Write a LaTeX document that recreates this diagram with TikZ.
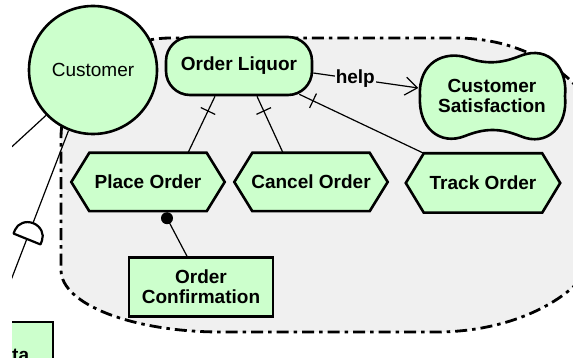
\documentclass[tikz,border=0pt]{standalone}
\usepackage{fontspec}
\setmainfont{Liberation Sans}
\usetikzlibrary{arrows.meta,calc}
\definecolor{ngreen}{HTML}{CCFFCC}
\definecolor{bgray}{HTML}{F0F0F0}
\pgfdeclarelayer{bg}
\pgfdeclarelayer{mid}
\pgfsetlayers{bg,mid,main}
\begin{document}
\begin{tikzpicture}[x=1pt,y=-1pt,
  lbl/.style={font=\fontsize{19}{20}\selectfont\bfseries, align=center},
  nodeline/.style={line width=2.6pt, draw=black},
  link/.style={line width=1.2pt},
  tick/.style={draw, line width=1.2pt, shape=rectangle, minimum width=0pt, minimum height=16pt, inner sep=0pt},
  hexnode/.style={lbl, minimum width=153pt, minimum height=58pt, inner sep=0pt}]
\useasboundingbox (0,0) rectangle (573,358);
\clip (12,-5) rectangle (620,358);
% actor boundary
\begin{pgfonlayer}{bg}
\draw[fill=bgray, line width=2.8pt, dash pattern=on 12pt off 5pt on 3.5pt off 5pt]
  (61,138) .. controls (61,82.8) and (110.25,38) .. (171,38)
  -- (456,38) .. controls (538.8,38) and (606,91.7) .. (606,158)
  -- (606,222) .. controls (606,282.75) and (529.9,332) .. (436,332)
  -- (221,332) .. controls (132.6,332) and (61,304.2) .. (61,270)
  -- cycle;
\end{pgfonlayer}
% nodes
\node[circle, nodeline, fill=ngreen, minimum size=128pt, inner sep=0pt, font=\fontsize{19}{20}\selectfont] (cu) at (93,70) {Customer};
\node[rounded corners=24pt, nodeline, fill=ngreen, minimum width=146pt, minimum height=58pt, lbl] (ol) at (239,66) {Order Liquor};
\node[hexnode] (po) at (148,182) {Place Order};
\node[hexnode] (co) at (311,182) {Cancel Order};
\node[hexnode, minimum width=154pt, minimum height=59pt] (tr) at (483,183) {Track Order};
\node[lbl, minimum width=145pt, minimum height=88pt, inner sep=0pt] (cs) at (492,96) {Customer\\Satisfaction};
\node[rectangle, nodeline, fill=ngreen, minimum width=144pt, minimum height=59pt, lbl] (oc) at (201,287) {Order\\Confirmation};
% shapes on mid layer
\begin{pgfonlayer}{mid}
\foreach \n in {po,co,tr}{
  \draw[nodeline, fill=ngreen] (\n.west) -- ($(\n.north west)+(18,0)$) -- ($(\n.north east)+(-18,0)$) -- (\n.east) -- ($(\n.south east)+(-18,0)$) -- ($(\n.south west)+(18,0)$) -- cycle;
}
\begin{scope}[shift={(cs.center)}]
\draw[nodeline, fill=ngreen] (-72,0) .. controls (-74,-34) and (-47,-46) .. (-24,-38)
  .. controls (-7,-32) and (8,-32) .. (28,-40)
  .. controls (58,-52) and (76,-26) .. (73,0)
  .. controls (76,29) and (56,52) .. (28,40)
  .. controls (8,32) and (-7,32) .. (-27,40)
  .. controls (-52,50) and (-74,32) .. (-72,0) -- cycle;
\end{scope}
\end{pgfonlayer}
% decomposition links
\draw[link] ($(po.north)+(40,0)$) -- node[tick, pos=0.74, sloped]{} ($(ol.south)+(-24,0)$);
\draw[link] ($(co.north)+(-28,0)$) -- node[tick, pos=0.74, sloped]{} ($(ol.south)+(18,0)$);
\draw[link] ($(tr.north west)+(18,0)$) -- node[tick, pos=0.89, sloped]{} ($(ol.south east)+(-14,-2)$);
% help contribution
\draw[link, -{Straight Barb[length=12pt,width=18pt]}] ($(ol.east)+(0,7)$) -- node[pos=0.4, fill=bgray, inner sep=1pt, lbl]{help} ($(cs.west)+(-1,-8)$);
% order confirmation link
\coordinate (dt) at ($(po.south)+(19,7)$);
\draw[link] ($(oc.north)+(-14,0)$) -- (dt);
\fill (dt) circle (6pt);
% customer links
\coordinate (e1) at (4,154);
\draw[link] (cu.224) -- (e1);
\coordinate (e2) at (8,288);
\draw[link] (cu.248) -- (e2);
\begin{scope}[shift={(27,239)}, rotate=-22]
\draw[line width=2.2pt, fill=white, line join=round] (-14.5,0) -- (-14.5,-4) .. controls (-14.5,-11) and (-8,-17) .. (0,-17) .. controls (8,-17) and (14.5,-11) .. (14.5,-4) -- (14.5,0) -- cycle;
\end{scope}
% partial box bottom-left
\draw[nodeline, fill=ngreen] (-50,322) rectangle (53,420);
\node[lbl, anchor=base west, inner sep=0pt] (da) at (12,361) {ta};
\end{tikzpicture}
\end{document}
